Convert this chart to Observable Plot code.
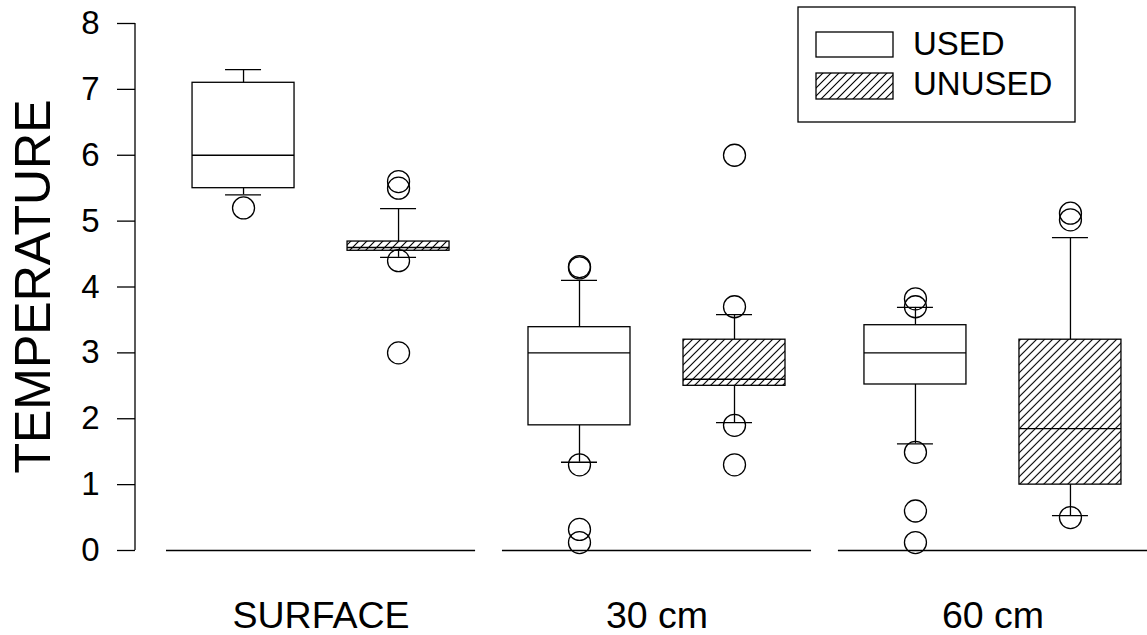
<!DOCTYPE html>
<html><head><meta charset="utf-8">
<script src="https://cdn.jsdelivr.net/npm/d3@7"></script>
<script src="https://cdn.jsdelivr.net/npm/@observablehq/plot@0.6"></script>
<style>body{margin:0;background:white} svg{display:block}</style>
</head><body><div id="chart"></div>
<script>
// ---- data ----
const groups = ["SURFACE", "30 cm", "60 cm"];
const series = ["USED", "UNUSED"];
const yTicks = [0, 1, 2, 3, 4, 5, 6, 7, 8];
const yTitle = "TEMPERATURE";

const boxGroup  = ["SURFACE", "SURFACE", "30 cm", "30 cm", "60 cm", "60 cm"];
const boxSeries = ["USED", "UNUSED", "USED", "UNUSED", "USED", "UNUSED"];
const whiskerLow  = [5.40, 4.45, 1.34, 1.94, 1.62, 0.53];
const q1          = [5.50, 4.55, 1.90, 2.50, 2.52, 1.00];
const median      = [6.00, 4.60, 3.00, 2.60, 3.00, 1.85];
const q3          = [7.10, 4.69, 3.39, 3.20, 3.42, 3.20];
const whiskerHigh = [7.30, 5.19, 4.10, 3.58, 3.69, 4.75];

const outlierGroup  = ["SURFACE", "SURFACE", "SURFACE", "SURFACE", "SURFACE",
                       "30 cm", "30 cm", "30 cm", "30 cm", "30 cm",
                       "30 cm", "30 cm", "30 cm", "30 cm",
                       "60 cm", "60 cm", "60 cm", "60 cm", "60 cm",
                       "60 cm", "60 cm", "60 cm"];
const outlierSeries = ["USED", "UNUSED", "UNUSED", "UNUSED", "UNUSED",
                       "USED", "USED", "USED", "USED", "USED",
                       "UNUSED", "UNUSED", "UNUSED", "UNUSED",
                       "USED", "USED", "USED", "USED", "USED",
                       "UNUSED", "UNUSED", "UNUSED"];
const outlierValue  = [5.20, 5.60, 5.50, 4.40, 3.00,
                       4.31, 4.29, 1.30, 0.32, 0.12,
                       6.00, 3.70, 1.90, 1.30,
                       3.82, 3.70, 1.49, 0.60, 0.12,
                       5.12, 5.02, 0.50];

// ---- tables built from the arrays ----
const boxes = boxGroup.map((g, i) => ({
  group: g, series: boxSeries[i], lo: whiskerLow[i], q1: q1[i],
  med: median[i], q3: q3[i], hi: whiskerHigh[i]
}));
const outliers = outlierGroup.map((g, i) => ({group: g, series: outlierSeries[i], value: outlierValue[i]}));

const SW = 1.3;
const font = "'Liberation Sans', Arial, Helvetica, sans-serif";

const plot = Plot.plot({
  width: 1147,
  height: 635,
  marginLeft: 166,
  marginRight: 0,
  marginTop: 23,
  marginBottom: 85,
  style: {fontFamily: font, background: "white", color: "black", overflow: "visible"},
  fx: {domain: groups, paddingInner: 0.08, paddingOuter: 0, round: false, label: null},
  x: {domain: series, paddingInner: 0.342, paddingOuter: 0.168, round: false, axis: null},
  y: {domain: [0, 8]},
  marks: [
    Plot.ruleY([0], {stroke: "black", strokeWidth: SW}),
    Plot.axisY({ticks: yTicks, tickSize: 18, tickPadding: 18, dx: -31, fontSize: 33, label: null, strokeWidth: SW}),
    Plot.axisFx({anchor: "bottom", tickSize: 0, tickPadding: 51, fontSize: 37.5, label: null}),
    // whiskers
    Plot.ruleX(boxes, {fx: "group", x: "series", y1: "q3", y2: "hi", stroke: "black", strokeWidth: SW}),
    Plot.ruleX(boxes, {fx: "group", x: "series", y1: "lo", y2: "q1", stroke: "black", strokeWidth: SW}),
    Plot.tickY(boxes, {fx: "group", x: "series", y: "hi", insetLeft: 33, insetRight: 33, stroke: "black", strokeWidth: SW}),
    Plot.tickY(boxes, {fx: "group", x: "series", y: "lo", insetLeft: 33, insetRight: 33, stroke: "black", strokeWidth: SW}),
    // boxes
    Plot.barY(boxes.filter(d => d.series === series[0]), {fx: "group", x: "series", y1: "q1", y2: "q3", fill: "white", stroke: "black", strokeWidth: SW}),
    Plot.barY(boxes.filter(d => d.series === series[1]), {fx: "group", x: "series", y1: "q1", y2: "q3", fill: "url(#hatch)", stroke: "black", strokeWidth: SW}),
    Plot.tickY(boxes, {fx: "group", x: "series", y: "med", stroke: "black", strokeWidth: SW}),
    // outliers
    Plot.dot(outliers, {fx: "group", x: "series", y: "value", r: 11, fill: "none", stroke: "black", strokeWidth: SW})
  ]
});

const svg = d3.select(plot);

// hatch pattern
const hw = 8;
const defs = svg.insert("defs", ":first-child");
const pat = defs.append("pattern").attr("id", "hatch")
  .attr("patternUnits", "userSpaceOnUse").attr("width", hw).attr("height", hw);
pat.append("rect").attr("width", hw).attr("height", hw).attr("fill", "white");
pat.append("path")
  .attr("d", `M0,${hw} L${hw},0 M${-hw/4},${hw/4} L${hw/4},${-hw/4} M${3*hw/4},${5*hw/4} L${5*hw/4},${3*hw/4}`)
  .attr("stroke", "black").attr("stroke-width", 1.15).attr("fill", "none");

// y axis line
const ys = plot.scale("y"), fxs = plot.scale("fx");
const ax = fxs.apply(groups[0]) - 31;
svg.append("line").attr("x1", ax).attr("x2", ax)
  .attr("y1", ys.apply(yTicks[0])).attr("y2", ys.apply(yTicks[yTicks.length - 1]))
  .attr("stroke", "black").attr("stroke-width", SW);

// y axis title
svg.append("text")
  .attr("transform", `translate(50, ${ys.apply(4)}) rotate(-90)`)
  .attr("text-anchor", "middle")
  .attr("font-family", font).attr("font-size", 50).attr("fill", "black")
  .text(yTitle);

// legend
const lg = svg.append("g").attr("text-anchor", "start");
lg.append("rect").attr("x", 798).attr("y", 7).attr("width", 277).attr("height", 115)
  .attr("fill", "white").attr("stroke", "black").attr("stroke-width", SW);
lg.append("rect").attr("x", 816).attr("y", 32).attr("width", 77).attr("height", 25)
  .attr("fill", "white").attr("stroke", "black").attr("stroke-width", SW);
lg.append("rect").attr("x", 816).attr("y", 73).attr("width", 77).attr("height", 26)
  .attr("fill", "url(#hatch)").attr("stroke", "black").attr("stroke-width", SW);
lg.append("text").attr("x", 913).attr("y", 55).attr("font-family", font).attr("font-size", 33).attr("fill", "black").text(series[0]);
lg.append("text").attr("x", 913).attr("y", 95).attr("font-family", font).attr("font-size", 33).attr("fill", "black").text(series[1]);

document.getElementById("chart").appendChild(plot);
</script>
</body></html>
